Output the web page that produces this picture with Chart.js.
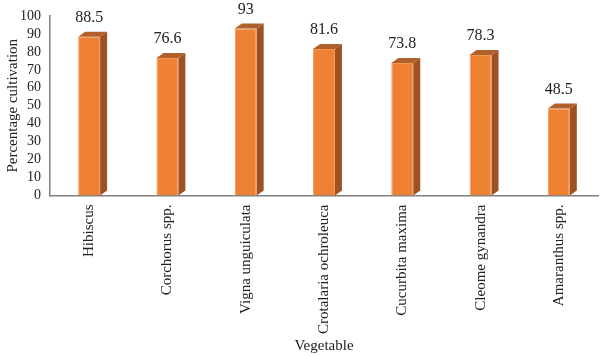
<!DOCTYPE html>
<html><head><meta charset="utf-8">
<script src="https://cdn.jsdelivr.net/npm/chart.js@4/dist/chart.umd.min.js"></script>
<style>html,body{margin:0;padding:0;background:#fff}#wrap{width:600px;height:357px}</style>
</head><body><div id="wrap"><canvas id="c" width="600" height="357"></canvas></div>
<script>
const categories = ["Hibiscus","Corchorus spp.","Vigna unguiculata","Crotalaria ochroleuca","Cucurbita maxima","Cleome gynandra","Amaranthus spp."];
const values = [88.5, 76.6, 93, 81.6, 73.8, 78.3, 48.5];
const valueLabels = ["88.5","76.6","93","81.6","73.8","78.3","48.5"];
const yTicks = [0,10,20,30,40,50,60,70,80,90,100];

const FONT = "'Liberation Serif', 'DejaVu Serif', serif";
const DX = 7, DY = 5;

const bar3d = {
  id: 'bar3d',
  afterDatasetsDraw(chart) {
    const ctx = chart.ctx;
    const meta = chart.getDatasetMeta(0);
    meta.data.forEach((el, i) => {
      const p = el.getProps(['x','y','width','base'], true);
      const l = p.x - p.width/2, r = p.x + p.width/2, t = p.y, b = p.base;
      ctx.save();
      ctx.fillStyle = '#9E5224';
      ctx.beginPath();
      ctx.moveTo(r, t); ctx.lineTo(r+DX, t-DY); ctx.lineTo(r+DX, b-DY); ctx.lineTo(r, b); ctx.closePath(); ctx.fill();
      ctx.fillStyle = '#B0602B';
      ctx.beginPath();
      ctx.moveTo(l, t); ctx.lineTo(l+DX, t-DY); ctx.lineTo(r+DX, t-DY); ctx.lineTo(r, t); ctx.closePath(); ctx.fill();
      ctx.fillStyle = '#222';
      ctx.font = '16px ' + FONT;
      ctx.textAlign = 'center';
      ctx.textBaseline = 'bottom';
      ctx.fillText(valueLabels[i], p.x, t - DY - 6);
      ctx.restore();
    });
  }
};

new Chart(document.getElementById('c'), {
  type: 'bar',
  data: { labels: categories, datasets: [{ data: values, backgroundColor: '#EE8133', borderColor: '#F49550', borderWidth: 1, borderSkipped: 'bottom', categoryPercentage: 1, barPercentage: 0.28 }] },
  options: {
    responsive: false, animation: false,
    layout: { padding: { top: 16, right: 2, left: 4, bottom: 2 } },
    plugins: { legend: { display: false }, tooltip: { enabled: false } },
    scales: {
      x: {
        grid: { display: false, drawTicks: false },
        border: { color: '#808080', width: 1.5 },
        ticks: { color: '#222', font: { family: FONT, size: 15 }, maxRotation: 90, minRotation: 90, padding: 9, autoSkip: false },
        title: { display: true, text: 'Vegetable', color: '#222', font: { family: FONT, size: 15 }, padding: { top: -6, bottom: 0 } }
      },
      y: {
        min: 0, max: 100,
        afterBuildTicks(axis) { axis.ticks = yTicks.map(v => ({ value: v })); },
        grid: { display: false, drawOnChartArea: false, drawTicks: true, tickLength: 6, tickColor: '#808080' },
        border: { color: '#808080', width: 1.5 },
        ticks: { color: '#222', font: { family: FONT, size: 14 }, padding: 3, autoSkip: false },
        title: { display: true, text: 'Percentage cultivation', color: '#222', font: { family: FONT, size: 15 }, padding: { top: 0, bottom: -5 } }
      }
    }
  },
  plugins: [bar3d]
});
</script></body></html>
